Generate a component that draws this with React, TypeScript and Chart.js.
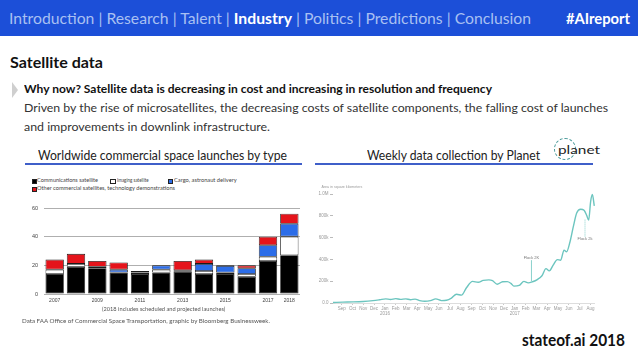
import React, { useEffect, useLayoutEffect, useRef } from 'react';
import { Chart, registerables } from 'chart.js';
Chart.register(...registerables);

// ---------- Left chart: launches by type ----------
const launchYears = ['2007', '2008', '2009', '2010', '2011', '2012', '2013', '2014', '2015', '2016', '2017', '2018'];
const launchYearTickLabels = ['2007', '', '2009', '', '2011', '', '2013', '', '2015', '', '2017', '2018'];
const commSat = [14, 19, 18, 15, 14, 15, 15.5, 14, 14, 12, 23, 27];
const imagingSat = [3, 2, 1, 0, 1, 2, 0, 2, 1, 2, 3, 13];
const cargoDelivery = [0, 0, 0, 2, 0, 3, 1, 5, 4.5, 4, 8, 9];
const otherSat = [7, 7, 4, 5, 1, 0, 6.5, 3, 0.5, 2, 6, 7];
const launchTicks = [0, 20, 40, 60];

// ---------- Right chart: weekly data collection ----------
const monthTickLabels: (string | string[])[] = [
  'Sep', 'Oct', 'Nov', 'Dec', ['Jan', '2016'], 'Feb', 'Mar', 'Apr', 'May', 'Jun', 'Jul', 'Aug',
  'Sep', 'Oct', 'Nov', 'Dec', ['Jan', '2017'], 'Feb', 'Mar', 'Apr', 'May', 'Jun', 'Jul', 'Aug',
];
const planetMonthPos = [
  -0.8, 0.12, 1.05, 1.98, 2.9, 3.52, 4.07, 4.51, 5.0, 5.43, 5.93, 6.36, 6.79, 7.22, 7.69, 8.21,
  8.7, 9.23, 9.69, 10.15, 10.62, 11.08, 11.54, 12.1, 12.62, 13.09, 13.61, 13.95, 14.38, 14.88,
  15.31, 15.65, 15.93, 16.42, 16.85, 17.25, 17.65, 18.09, 18.52, 18.89, 19.2, 19.57, 19.94,
  20.25, 20.56, 20.8, 21.11, 21.42, 21.73, 22.1, 22.41, 22.65, 22.84, 23.02, 23.18, 23.36,
];
const planetAreaKm2 = [
  5000, 8000, 10000, 14000, 22000, 30000, 38000, 32000, 40000, 33000, 38000, 30000, 36000, 22000, 16000, 22000,
  38000, 22000, 25000, 45000, 80000, 72000, 140000, 198000, 190000, 208000, 212000, 205000, 172000, 195000,
  196000, 180000, 155000, 162000, 198000, 185000, 195000, 215000, 250000, 315000, 295000, 350000, 398000,
  392000, 485000, 470000, 560000, 700000, 825000, 860000, 850000, 805000, 760000, 930000, 995000, 890000,
];
const areaTickValues = [0, 200000, 400000, 600000, 800000, 1000000];
const areaTickLabels = ['0.0', '200k', '400k', '600k', '800k', '1.0M'];
const areaAxisTitle = 'Area in square kilometers';
const flockNotes = [
  { label: 'Flock 2K', month: 17.55, from: 200000, to: 393000, textAt: 418000, dashed: false },
  { label: 'Flock 2k', month: 22.5, from: 765000, to: 610000, textAt: 586000, dashed: true },
];

const FONT = '"Lato", "Open Sans", sans-serif';
const TEAL = '#6cc5bf';

function Fit(props: { x: number; cy: number; w: number; size: number; weight?: number; color?: string; family?: string; children: any }) {
  const ref = useRef<HTMLSpanElement>(null);
  useLayoutEffect(() => {
    const el = ref.current;
    if (!el) return;
    el.style.transform = 'none';
    const actual = el.getBoundingClientRect().width;
    if (actual > 0) el.style.transform = `scaleX(${props.w / actual})`;
  });
  return (
    <span
      ref={ref}
      style={{
        position: 'absolute',
        left: props.x,
        top: props.cy - props.size / 2,
        fontSize: props.size,
        lineHeight: 1,
        fontWeight: props.weight || 400,
        color: props.color || '#222',
        fontFamily: props.family || FONT,
        whiteSpace: 'nowrap',
        transformOrigin: '0 0',
      }}
    >
      {props.children}
    </span>
  );
}

function LaunchChart() {
  const ref = useRef<HTMLCanvasElement>(null);
  useEffect(() => {
    if (!ref.current) return;
    const common = { borderColor: '#1a1a1a', borderWidth: 0.8, borderSkipped: false, barPercentage: 0.86, categoryPercentage: 1 };
    const chart = new Chart(ref.current, {
      type: 'bar',
      data: {
        labels: launchYears,
        datasets: [
          { label: 'Communications satellite', data: commSat.map((v) => v || null), backgroundColor: '#000', ...common },
          { label: 'Imaging satellite', data: imagingSat.map((v) => v || null), backgroundColor: '#fff', ...common },
          { label: 'Cargo, astronaut delivery', data: cargoDelivery.map((v) => v || null), backgroundColor: '#2c6de8', ...common },
          { label: 'Other commercial satellites, technology demonstrations', data: otherSat.map((v) => v || null), backgroundColor: '#e5141b', ...common },
        ] as any,
      },
      options: {
        responsive: false,
        animation: false,
        devicePixelRatio: 1,
        layout: { padding: { left: 0, right: 2, top: 10, bottom: 0 } },
        plugins: { legend: { display: false }, tooltip: { enabled: false } },
        scales: {
          x: {
            stacked: true,
            grid: { display: false, drawTicks: false },
            border: { display: false },
            ticks: {
              autoSkip: false,
              maxRotation: 0,
              padding: 4,
              color: '#444',
              font: { size: 5, family: 'Liberation Sans' },
              callback: (_v: any, i: number) => launchYearTickLabels[i],
            },
            afterFit: (s: any) => { s.height = 20; },
          },
          y: {
            stacked: true,
            min: 0,
            max: 60,
            afterBuildTicks: (s: any) => { s.ticks = launchTicks.map((v) => ({ value: v })); },
            ticks: { padding: 6, color: '#444', font: { size: 5.5, family: 'Liberation Sans' } },
            grid: { color: '#9a9a9a', lineWidth: 0.8, drawTicks: false },
            border: { display: false },
            afterFit: (s: any) => { s.width = 24; },
          },
        },
      } as any,
    });
    return () => chart.destroy();
  }, []);
  return <canvas ref={ref} width={282} height={116} style={{ position: 'absolute', left: 20, top: 198, width: 282, height: 116 }} />;
}

const flockPlugin = {
  id: 'flockNotes',
  afterDatasetsDraw(chart: any) {
    const { ctx, scales, chartArea } = chart;
    const x = scales.x;
    const y = scales.y;
    ctx.save();
    ctx.fillStyle = '#9a9a9a';
    ctx.font = '3.6px "Liberation Sans"';
    ctx.textBaseline = 'middle';
    ctx.textAlign = 'left';
    ctx.fillText(areaAxisTitle, chartArea.left - 11.5, chartArea.top - 7.3);
    flockNotes.forEach((n) => {
      const px = x.getPixelForValue(n.month);
      ctx.strokeStyle = TEAL;
      ctx.lineWidth = 0.8;
      ctx.setLineDash(n.dashed ? [1, 1] : []);
      ctx.beginPath();
      ctx.moveTo(px, y.getPixelForValue(n.from));
      ctx.lineTo(px, y.getPixelForValue(n.to));
      ctx.stroke();
      ctx.fillStyle = '#777';
      ctx.textAlign = 'center';
      ctx.font = '4px "Liberation Sans"';
      ctx.fillText(n.label, px, y.getPixelForValue(n.textAt));
    });
    ctx.restore();
  },
};

function PlanetChart() {
  const ref = useRef<HTMLCanvasElement>(null);
  useEffect(() => {
    if (!ref.current) return;
    const chart = new Chart(ref.current, {
      type: 'line',
      data: {
        datasets: [
          {
            label: 'Area',
            data: planetMonthPos.map((m, i) => ({ x: m, y: planetAreaKm2[i] })),
            borderColor: TEAL,
            borderWidth: 1.4,
            pointRadius: 0,
            tension: 0.4,
            cubicInterpolationMode: 'monotone',
            fill: false,
            clip: false,
          },
        ] as any,
      },
      options: {
        responsive: false,
        animation: false,
        devicePixelRatio: 1,
        layout: { padding: { left: 0, right: 7.7, top: 11, bottom: 0 } },
        plugins: { legend: { display: false }, tooltip: { enabled: false } },
        scales: {
          x: {
            type: 'linear',
            min: -0.8,
            max: 23.36,
            afterBuildTicks: (s: any) => { s.ticks = monthTickLabels.map((_l, i) => ({ value: i })); },
            ticks: {
              autoSkip: false,
              maxRotation: 0,
              padding: 2,
              color: '#9a9a9a',
              font: { size: 4.5, family: 'Liberation Sans', lineHeight: 1 },
              callback: (_v: any, i: number) => monthTickLabels[i],
            },
            grid: { drawOnChartArea: false, tickLength: 2, color: '#c8c8c8' },
            border: { color: '#dddddd' },
            afterFit: (s: any) => { s.height = 20; },
          },
          y: {
            min: 0,
            max: 1000000,
            afterBuildTicks: (s: any) => { s.ticks = areaTickValues.map((v) => ({ value: v })); },
            ticks: {
              padding: 1.5,
              color: '#9a9a9a',
              font: { size: 4.5, family: 'Liberation Sans' },
              callback: (_v: any, i: number) => areaTickLabels[i],
            },
            grid: { drawOnChartArea: false, tickLength: 3, color: '#bbbbbb' },
            border: { display: false },
            afterFit: (s: any) => { s.width = 28; },
          },
        },
      } as any,
      plugins: [flockPlugin as any],
    });
    return () => chart.destroy();
  }, []);
  return <canvas ref={ref} width={297} height={140} style={{ position: 'absolute', left: 305, top: 183, width: 297, height: 140 }} />;
}

function LegendBox(props: { x: number; cy: number; color: string }) {
  return (
    <div
      style={{
        position: 'absolute',
        left: props.x,
        top: props.cy - 2,
        width: 3.5,
        height: 3.5,
        background: props.color,
        border: '0.6px solid #222',
      }}
    />
  );
}

export default function App() {
  return (
    <div style={{ position: 'absolute', left: 0, top: 0, width: 638, height: 359, background: '#fff', overflow: 'hidden', fontFamily: FONT }}>
      {/* header */}
      <div style={{ position: 'absolute', left: 0, top: 0, width: 638, height: 36, background: '#1c4fd8' }} />
      <Fit x={9} cy={18} w={522} size={16} color="#a9c0f2">
        Introduction | Research | Talent | <b style={{ color: '#fff' }}>Industry</b> | Politics | Predictions | Conclusion
      </Fit>
      <Fit x={566} cy={18} w={64} size={16} weight={700} color="#fff">#AIreport</Fit>

      <Fit x={10} cy={62} w={93} size={15} weight={700} color="#111">Satellite data</Fit>
      <div
        style={{
          position: 'absolute', left: 12, top: 82, width: 0, height: 0,
          borderTop: '8px solid transparent', borderBottom: '8px solid transparent', borderLeft: '6px solid #cfcfcf',
        }}
      />
      <Fit x={24} cy={89} w={468} size={11.5} weight={700} color="#111">
        Why now? Satellite data is decreasing in cost and increasing in resolution and frequency
      </Fit>
      <Fit x={24} cy={108} w={584} size={12} color="#333">
        Driven by the rise of microsatellites, the decreasing costs of satellite components, the falling cost of launches
      </Fit>
      <Fit x={24} cy={127} w={246} size={12} color="#333">and improvements in downlink infrastructure.</Fit>

      <Fit x={38} cy={156} w={249} size={12.5} color="#222">Worldwide commercial space launches by type</Fit>
      <div style={{ position: 'absolute', left: 25, top: 163, width: 277, height: 1.5, background: '#3f5fc9' }} />
      <Fit x={367} cy={156} w={173} size={12.5} color="#222">Weekly data collection by Planet</Fit>
      <div style={{ position: 'absolute', left: 315, top: 163, width: 278, height: 1.5, background: '#3f5fc9' }} />

      {/* planet logo */}
      <div style={{ position: 'absolute', left: 554, top: 138, width: 20, height: 20, borderRadius: '50%', border: '1px dashed #4a9a9a' }} />
      <Fit x={558} cy={149} w={42} size={11} color="#222">planet</Fit>

      {/* left chart legend */}
      <LegendBox x={31.5} cy={180.5} color="#000" />
      <Fit x={37.3} cy={180.5} w={61} size={5} color="#444">Communications satellite</Fit>
      <LegendBox x={110} cy={180.5} color="#fff" />
      <Fit x={116.7} cy={180.5} w={31.7} size={5} color="#444">Imaging satellite</Fit>
      <LegendBox x={167.7} cy={180.5} color="#2c6de8" />
      <Fit x={174} cy={180.5} w={62.7} size={5} color="#444">Cargo, astronaut delivery</Fit>
      <LegendBox x={31.5} cy={188.5} color="#e5141b" />
      <Fit x={37.3} cy={188.5} w={138} size={5} color="#444">Other commercial satellites, technology demonstrations</Fit>

      <LaunchChart />

      <Fit x={101.7} cy={309} w={123.3} size={5} color="#555">(2018 includes scheduled and projected launches)</Fit>
      <Fit x={21.7} cy={321.7} w={248} size={5.5} color="#555">
        Data FAA Office of Commercial Space Transportation, graphic by Bloomberg Businessweek.
      </Fit>

      <PlanetChart />

      <Fit x={522} cy={339} w={103} size={17} weight={700} color="#111">stateof.ai 2018</Fit>
    </div>
  );
}
